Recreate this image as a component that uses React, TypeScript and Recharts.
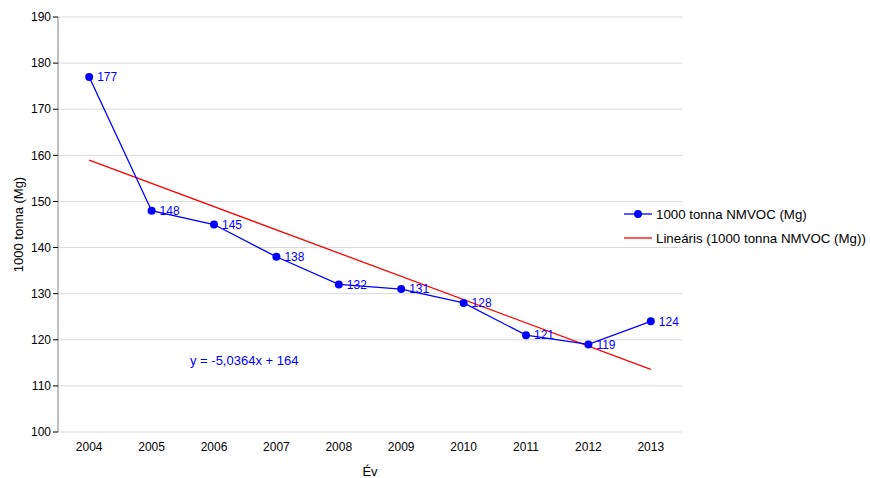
import React from "react";
import { LineChart, Line, XAxis, YAxis, CartesianGrid, LabelList } from "recharts";

const years = [2004, 2005, 2006, 2007, 2008, 2009, 2010, 2011, 2012, 2013];
const emissions = [177, 148, 145, 138, 132, 131, 128, 121, 119, 124];
const trendYears = [2004, 2013];
const trendValues = [158.96, 113.6];
const yTicks = [100, 110, 120, 130, 140, 150, 160, 170, 180, 190];
const boundaryTicks = [2003.5, 2004.5, 2005.5, 2006.5, 2007.5, 2008.5, 2009.5, 2010.5, 2011.5, 2012.5, 2013.5];

const seriesName = "1000 tonna NMVOC (Mg)";
const trendName = "Lineáris (1000 tonna NMVOC (Mg))";
const equation = "y = -5,0364x + 164";

const data = years.map((year, i) => ({ year, value: emissions[i] }));
const trendData = trendYears.map((year, i) => ({ year, trend: trendValues[i] }));

const font = "'Liberation Sans', Arial, sans-serif";

// only the tick line is wanted on the boundary axis
const EmptyTick = () => <g />;

const App = () => {
  return (
    <div style={{ position: "absolute", left: 0, top: 0, width: 870, height: 478, fontFamily: font }}>
      <LineChart width={870} height={478} margin={{ top: 17, right: 188, bottom: 0, left: 0 }}>
        <CartesianGrid vertical={false} stroke="#d9d9d9" />
        <XAxis
          xAxisId="marks"
          type="number"
          dataKey="year"
          domain={[2003.5, 2013.5]}
          ticks={boundaryTicks}
          interval={0}
          tick={<EmptyTick />}
          tickSize={5}
          height={0}
          axisLine={{ stroke: "#000" }}
          tickLine={{ stroke: "#000" }}
        />
        <XAxis
          xAxisId="main"
          type="number"
          dataKey="year"
          domain={[2003.5, 2013.5]}
          ticks={years}
          interval={0}
          height={46}
          axisLine={false}
          tickLine={false}
          tickMargin={4}
          tick={{ fill: "#000", fontSize: 12, fontFamily: font }}
          label={{ value: "Év", position: "insideBottom", offset: 2, fill: "#000", fontSize: 13, fontFamily: font }}
        />
        <YAxis
          width={58}
          domain={[100, 190]}
          ticks={yTicks}
          interval={0}
          tickSize={5}
          tickMargin={2}
          axisLine={{ stroke: "#808080" }}
          tickLine={{ stroke: "#000" }}
          tick={{ fill: "#000", fontSize: 12, fontFamily: font }}
          label={{
            value: "1000 tonna (Mg)",
            angle: -90,
            position: "insideLeft",
            offset: 18,
            fill: "#000",
            fontSize: 13,
            fontFamily: font,
            style: { textAnchor: "middle" },
          }}
        />
        <Line
          xAxisId="main"
          data={trendData}
          dataKey="trend"
          name={trendName}
          stroke="#ff0000"
          strokeWidth={1.3}
          dot={false}
          isAnimationActive={false}
        />
        <Line
          xAxisId="main"
          data={data}
          dataKey="value"
          name={seriesName}
          stroke="#0000ff"
          strokeWidth={1.3}
          dot={{ r: 4, fill: "#0000ff", stroke: "#0000ff", strokeWidth: 0 }}
          isAnimationActive={false}
        >
          <LabelList dataKey="value" position="right" offset={8} fill="#0000ff" fontSize={12} fontFamily={font} />
        </Line>
      </LineChart>
      <div style={{ position: "absolute", left: 190, top: 353, fontSize: 13, color: "#0000ff", whiteSpace: "nowrap" }}>
        {equation}
      </div>
      <div style={{ position: "absolute", left: 622, top: 205, fontSize: 13.3, color: "#000" }}>
        <div style={{ display: "flex", alignItems: "center", height: 18, whiteSpace: "nowrap" }}>
          <svg width={32} height={10} style={{ marginRight: 2 }}>
            <line x1={2} y1={5} x2={30} y2={5} stroke="#0000ff" strokeWidth={1.3} />
            <circle cx={16} cy={5} r={4} fill="#0000ff" />
          </svg>
          <span>{seriesName}</span>
        </div>
        <div style={{ display: "flex", alignItems: "center", height: 18, marginTop: 6, whiteSpace: "nowrap" }}>
          <svg width={32} height={10} style={{ marginRight: 2 }}>
            <line x1={2} y1={5} x2={30} y2={5} stroke="#ff0000" strokeWidth={1.3} />
          </svg>
          <span>{trendName}</span>
        </div>
      </div>
    </div>
  );
};

export default App;
